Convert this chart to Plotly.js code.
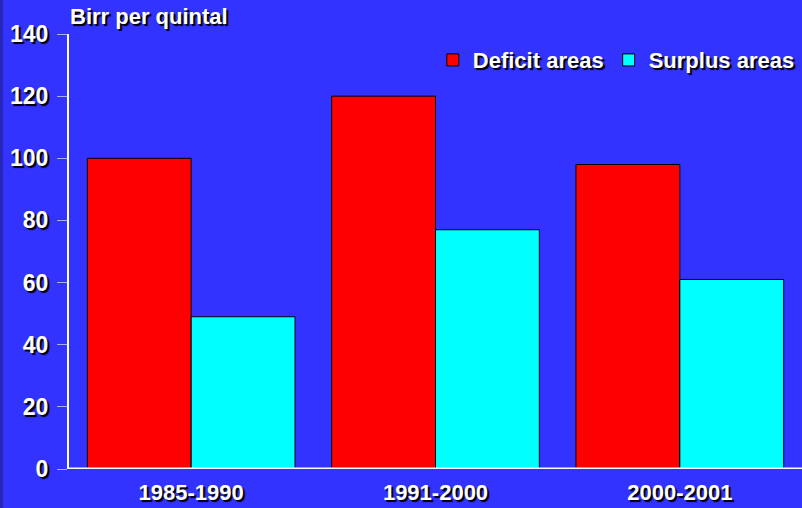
<!DOCTYPE html>
<html><head><meta charset="utf-8">
<script src="https://cdn.plot.ly/plotly-3.0.1.min.js"></script>
<style>html,body{margin:0;padding:0;background:#3333FF;}</style>
</head><body><div id="chart" style="width:802px;height:508px;"></div>
<script>
const categories = ["1985-1990", "1991-2000", "2000-2001"];
const deficitAreas = [100, 120, 98];
const surplusAreas = [49, 77, 61];
const seriesNames = ["Deficit areas", "Surplus areas"];
const yTicks = [0, 20, 40, 60, 80, 100, 120, 140];

const shadow = "2px 2px 1px #000";
const baseFont = {family: "Liberation Sans, Arial, sans-serif", color: "#ffffff", weight: 700, shadow: shadow};

const traces = [
  {type: "bar", x: categories, y: deficitAreas, name: seriesNames[0],
   marker: {color: "#ff0000", line: {color: "#000000", width: 1}}},
  {type: "bar", x: categories, y: surplusAreas, name: seriesNames[1],
   marker: {color: "#00ffff", line: {color: "#000000", width: 1}}}
];

const plotW = 802 - 69 - 0;

const layout = {
  width: 802, height: 508,
  paper_bgcolor: "#3333FF", plot_bgcolor: "#3333FF",
  margin: {l: 69, r: 0, t: 34, b: 39, autoexpand: false},
  barmode: "group", bargap: 0.15, bargroupgap: 0,
  showlegend: true,
  legend: {orientation: "h", x: 0.997, xanchor: "right", y: 0.94, yanchor: "middle",
           bgcolor: "rgba(0,0,0,0)", font: Object.assign({}, baseFont, {size: 22}),
           itemwidth: 30, tracegroupgap: 0, traceorder: "normal"},
  xaxis: {type: "category", range: [-0.5, 2.5], showgrid: false, zeroline: false,
          showline: false, ticks: "", ticklabelstandoff: 8,
          tickfont: Object.assign({}, baseFont, {size: 22})},
  yaxis: {range: [0, 140], tickvals: yTicks, showgrid: false, zeroline: false,
          showline: true, linecolor: "#ffffff", linewidth: 2,
          ticks: "outside", ticklen: 10, tickcolor: "rgba(255,255,255,0.6)", tickwidth: 1,
          ticklabelstandoff: 4,
          tickfont: Object.assign({}, baseFont, {size: 23})},
  shapes: [
    {type: "line", xref: "paper", yref: "y", x0: 0, x1: 1.01, y0: 0, y1: 0,
     line: {color: "#ffffff", width: 3}},
    {type: "rect", xref: "paper", yref: "paper", x0: -69 / plotW, x1: -66 / plotW,
     y0: -0.2, y1: 1.2, line: {width: 0}, fillcolor: "#2626b8", layer: "below"}
  ],
  annotations: [
    {text: "Birr per quintal", xref: "paper", yref: "paper", x: 0, y: 1, xshift: -1, yshift: 3,
     xanchor: "left", yanchor: "bottom", showarrow: false,
     font: Object.assign({}, baseFont, {size: 22})}
  ]
};

Plotly.newPlot("chart", traces, layout, {displayModeBar: false, staticPlot: true});
</script></body></html>
